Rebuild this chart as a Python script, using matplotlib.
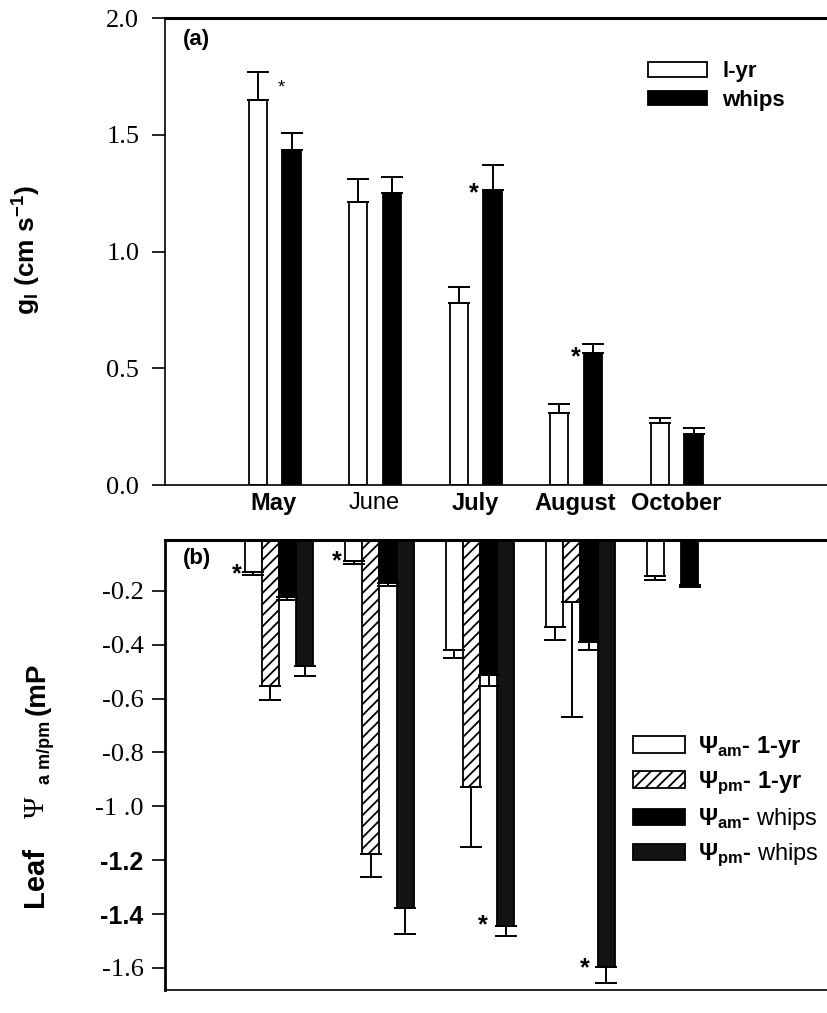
import numpy as np
import matplotlib
matplotlib.use('Agg')
import matplotlib.pyplot as plt
from matplotlib.patches import Patch

plt.rcParams['font.family'] = ['Liberation Sans', 'DejaVu Sans']
plt.rcParams['mathtext.fontset'] = 'custom'
plt.rcParams['mathtext.rm'] = 'Liberation Sans:bold'
plt.rcParams['mathtext.bf'] = 'Liberation Sans:bold'
plt.rcParams['mathtext.it'] = 'Liberation Sans:bold'
plt.rcParams['mathtext.sf'] = 'Liberation Sans'
plt.rcParams['hatch.linewidth'] = 1.3

months = ['May', 'June', 'July', 'August', 'October']

# (a) leaf conductance, cm s-1
gl_1yr = [1.65, 1.21, 0.78, 0.31, 0.265]
gl_1yr_err = [0.12, 0.10, 0.07, 0.035, 0.02]
gl_whips = [1.436, 1.25, 1.265, 0.564, 0.218]
gl_whips_err = [0.07, 0.07, 0.105, 0.04, 0.027]

# (b) leaf water potential, MPa (nan = not measured)
am_1yr = [-0.13, -0.089, -0.42, -0.334, -0.145]
am_1yr_err = [0.011, 0.011, 0.029, 0.048, 0.015]
pm_1yr = [-0.553, -1.177, -0.928, -0.241, np.nan]
pm_1yr_err = [0.052, 0.085, 0.223, 0.427, np.nan]
am_whips = [-0.222, -0.171, -0.512, -0.39, -0.178]
am_whips_err = [0.012, 0.011, 0.041, 0.03, 0.008]
pm_whips = [-0.479, -1.378, -1.444, -1.597, np.nan]
pm_whips_err = [0.037, 0.096, 0.038, 0.059, np.nan]

# significance stars (x in group units, y in data units)
stars_a = [(0.02, 1.70, 'normal'), (1.94, 1.248, 'bold'), (2.95, 0.547, 'bold')]
stars_b = [(-0.418, -0.137), (0.577, -0.089), (2.025, -1.44), (3.04, -1.60)]

x = np.arange(len(months))
fig = plt.figure(figsize=(8.27, 10.13), dpi=100)
ax1 = fig.add_axes([0.1995, 0.5212, 0.8005, 0.461])
ax2 = fig.add_axes([0.1995, 0.0227, 0.8005, 0.4442])
xlim = (-1.134, 5.453)

# ---- panel (a)
w = 0.18
ax1.bar(x - 0.21, gl_1yr, w, color='white', edgecolor='black', lw=1.3)
ax1.bar(x + 0.125, gl_whips, w, color='black', edgecolor='black', lw=1.3)
ax1.errorbar(x - 0.21, gl_1yr, yerr=[np.zeros(5), gl_1yr_err], fmt='none',
             ecolor='black', elinewidth=1.4, capsize=8, capthick=1.4)
ax1.errorbar(x + 0.125, gl_whips, yerr=[np.zeros(5), gl_whips_err], fmt='none',
             ecolor='black', elinewidth=1.4, capsize=8, capthick=1.4)
for sx, sy, wt in stars_a:
    ax1.text(sx, sy, '*', ha='center', va='center', fontsize=13 if wt == 'normal' else 18,
             fontweight=wt)

ax1.set_xlim(*xlim)
ax1.set_ylim(0, 2.0)
ax1.set_yticks([0, 0.5, 1.0, 1.5, 2.0])
ax1.set_yticklabels(['0.0', '0.5', '1.0', '1.5', '2.0'], fontfamily='Liberation Serif', fontsize=19)
ax1.set_xticks(x - 0.05)
ax1.set_xticklabels(months, fontsize=17)
for lab, wt in zip(ax1.get_xticklabels(), ['bold', 'normal', 'bold', 'bold', 'bold']):
    lab.set_fontweight(wt)
ax1.tick_params(axis='x', length=0, pad=5)
ax1.tick_params(axis='y', direction='out', length=9.5, width=1.2, pad=9)
ax1.spines['right'].set_visible(False)
ax1.spines['top'].set_linewidth(2.2)
ax1.spines['left'].set_linewidth(1.2)
ax1.spines['bottom'].set_linewidth(1.2)
ax1.set_ylabel(r'g$_{\mathrm{l}}$ (cm s$^{\mathrm{-1}}$)', fontsize=19, fontweight='bold')
ax1.yaxis.set_label_coords(-0.184, 0.503)
ax1.text(0.027, 0.953, '(a)', transform=ax1.transAxes, fontsize=16, fontweight='bold',
         ha='left', va='center')
ax1.legend(handles=[Patch(facecolor='white', edgecolor='black', lw=1.3),
                    Patch(facecolor='black', edgecolor='black', lw=1.3)],
           labels=['l-yr', 'whips'], loc='upper left', bbox_to_anchor=(0.7296, 0.908),
           frameon=False, borderpad=0, borderaxespad=0, handlelength=2.65,
           handleheight=0.65, handletextpad=0.7, labelspacing=0.35,
           prop={'size': 16, 'weight': 'bold'})

# ---- panel (b)
wb = 0.17
offs = np.array([-1.5, -0.5, 0.5, 1.5]) * wb
series = [
    (am_1yr, am_1yr_err, dict(color='white', edgecolor='black')),
    (pm_1yr, pm_1yr_err, dict(color='white', edgecolor='black', hatch='///')),
    (am_whips, am_whips_err, dict(color='black', edgecolor='black')),
    (pm_whips, pm_whips_err, dict(color='#141414', edgecolor='black')),
]
for off, (vals, errs, style) in zip(offs, series):
    vals = np.asarray(vals)
    errs = np.asarray(errs)
    ok = np.isfinite(vals)
    ax2.bar(x[ok] + off, vals[ok], wb, lw=1.3, **style)
    ax2.errorbar(x[ok] + off, vals[ok], yerr=[errs[ok], np.zeros(ok.sum())], fmt='none',
                 ecolor='black', elinewidth=1.4, capsize=8, capthick=1.4)
for sx, sy in stars_b:
    ax2.text(sx, sy, '*', ha='center', va='center', fontsize=18, fontweight='bold')

ax2.set_xlim(*xlim)
ax2.set_ylim(-1.682, -0.011)
yt = [-0.2, -0.4, -0.6, -0.8, -1.0, -1.2, -1.4, -1.6]
ax2.set_yticks(yt)
ax2.set_yticklabels(['-0.2', '-0.4', '-0.6', '-0.8', '-1 .0', '-1.2', '-1.4', '-1.6'], fontsize=19)
for lab in ax2.get_yticklabels():
    if lab.get_text() in ('-1.2', '-1.4'):
        lab.set_fontweight('bold')
        lab.set_fontsize(18)
    else:
        lab.set_fontfamily('Liberation Serif')
ax2.set_xticks([])
ax2.tick_params(axis='y', direction='out', length=9.5, width=1.2, pad=6)
ax2.spines['right'].set_visible(False)
ax2.spines['top'].set_linewidth(2.2)
ax2.spines['left'].set_linewidth(2.0)
ax2.spines['bottom'].set_linewidth(1.2)
ax2.text(0.027, 0.96, '(b)', transform=ax2.transAxes, fontsize=16, fontweight='bold',
         ha='left', va='center')

# y label of (b), built from pieces
fw, fh = 827.0, 1013.0
fig.text(35 / fw, 1 - 877 / fh, 'Leaf', rotation=90, fontsize=21, fontweight='bold',
         ha='center', va='center')
fig.text(37 / fw, 1 - 807 / fh, 'Ψ', rotation=90, fontsize=21, fontfamily='Liberation Serif',
         ha='center', va='center')
fig.text(45 / fw, 1 - 752 / fh, 'a m/pm', rotation=90, fontsize=13, fontweight='bold',
         ha='center', va='center')
fig.text(38 / fw, 1 - 689 / fh, '(mP', rotation=90, fontsize=20, fontweight='bold',
         ha='center', va='center')

leg_handles = [Patch(facecolor='white', edgecolor='black', lw=1.3),
               Patch(facecolor='white', edgecolor='black', hatch='///', lw=1.3),
               Patch(facecolor='black', edgecolor='black', lw=1.3),
               Patch(facecolor='#141414', edgecolor='black', lw=1.3)]
leg_labels = [r'$\mathrm{Ψ}_{\mathrm{am}}$- 1-yr', r'$\mathrm{Ψ}_{\mathrm{pm}}$- 1-yr',
              r'$\mathrm{Ψ}_{\mathrm{am}}$- $\mathsf{whips}$',
              r'$\mathrm{Ψ}_{\mathrm{pm}}$- $\mathsf{whips}$']
ax2.legend(handles=leg_handles, labels=leg_labels, loc='upper left',
           bbox_to_anchor=(0.707, 0.569), frameon=False, borderpad=0, borderaxespad=0,
           handlelength=2.2, handleheight=0.72, handletextpad=0.55, labelspacing=0.4,
           prop={'size': 17, 'weight': 'bold'})

fig.savefig('out.png', dpi=100)
